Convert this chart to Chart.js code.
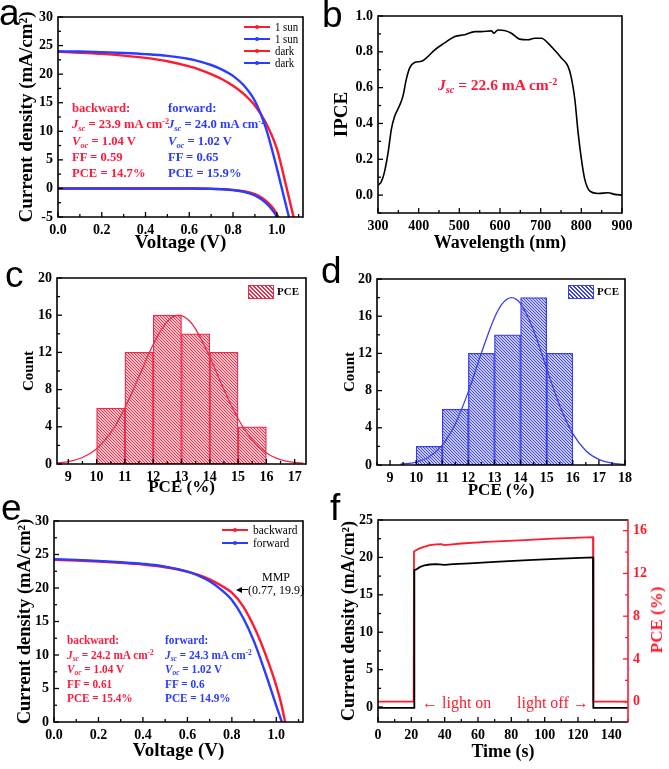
<!DOCTYPE html>
<html><head><meta charset="utf-8">
<script src="https://cdn.jsdelivr.net/npm/chart.js@4.4.1/dist/chart.umd.min.js"></script>
<style>
html,body{margin:0;padding:0;background:#fff;overflow:hidden;}
#wrap{position:relative;width:669px;height:769px;overflow:hidden;background:#fff;}
canvas{position:absolute;left:0;top:0;}
.t{position:absolute;white-space:nowrap;font-family:"Liberation Serif","Times New Roman",serif;transform-origin:0 50%;}
.b{font-weight:bold;}
.lbl{position:absolute;font-family:"Liberation Sans",Arial,sans-serif;font-size:37px;line-height:37px;color:#000;}
.sub{font-size:0.66em;vertical-align:-0.3em;line-height:0;font-style:italic;}
.sup{font-size:0.66em;vertical-align:0.5em;line-height:0;}
.ln{position:absolute;height:2px;}
.dot{position:absolute;width:4px;height:4px;border-radius:2px;}
</style></head><body><div id="wrap">
<canvas id="ca" width="669" height="769"></canvas>
<canvas id="cb" width="669" height="769"></canvas>
<canvas id="cc" width="669" height="769"></canvas>
<canvas id="cd" width="669" height="769"></canvas>
<canvas id="ce" width="669" height="769"></canvas>
<canvas id="cf" width="669" height="769"></canvas>

<!-- panel letters -->
<div class="lbl" style="left:-1px;top:-6px;">a</div>
<div class="lbl" style="left:322px;top:-4px;">b</div>
<div class="lbl" style="left:5px;top:256px;">c</div>
<div class="lbl" style="left:321px;top:252px;">d</div>
<div class="lbl" style="left:1px;top:489px;">e</div>
<div class="lbl" style="left:330px;top:489px;">f</div>

<!-- panel a legend -->
<div class="ln" style="left:244px;top:26px;width:26px;background:#ff1a2e"></div><div class="dot" style="left:255px;top:25px;background:#ff1a2e"></div>
<div class="t" style="left:275px;top:19px;font-size:12px;line-height:16px;transform:scaleX(0.9);">1 sun</div>
<div class="ln" style="left:244px;top:38px;width:26px;background:#2a3cff"></div><div class="dot" style="left:255px;top:37px;background:#2a3cff"></div>
<div class="t" style="left:275px;top:31px;font-size:12px;line-height:16px;transform:scaleX(0.9);">1 sun</div>
<div class="ln" style="left:244px;top:50px;width:26px;background:#ff1a2e"></div><div class="dot" style="left:255px;top:49px;background:#ff1a2e"></div>
<div class="t" style="left:275px;top:43px;font-size:12px;line-height:16px;transform:scaleX(0.9);">dark</div>
<div class="ln" style="left:244px;top:62px;width:26px;background:#2a3cff"></div><div class="dot" style="left:255px;top:61px;background:#2a3cff"></div>
<div class="t" style="left:275px;top:55px;font-size:12px;line-height:16px;transform:scaleX(0.9);">dark</div>

<!-- panel a annotations -->
<div class="t b" style="left:72px;top:100px;font-size:13.3px;line-height:16.25px;color:#ff1a3a;transform:scaleX(0.95);">backward:<br><i>J</i><span class="sub">sc</span> = 23.9 mA cm<span class="sup">-2</span><br><i>V</i><span class="sub">oc</span> = 1.04 V<br>FF = 0.59<br>PCE = 14.7%</div>
<div class="t b" style="left:168px;top:100px;font-size:13.3px;line-height:16.25px;color:#2a3cff;transform:scaleX(0.95);">forward:<br><i>J</i><span class="sub">sc</span> = 24.0 mA cm<span class="sup">-2</span><br><i>V</i><span class="sub">oc</span> = 1.02 V<br>FF = 0.65<br>PCE = 15.9%</div>

<!-- panel b annotation -->
<div class="t b" style="left:438px;top:75px;font-size:15.5px;line-height:20px;color:#ff1a3a;"><i>J</i><span class="sub">sc</span> = 22.6 mA cm<span class="sup">-2</span></div>

<!-- panel c legend -->
<div style="position:absolute;left:248px;top:285px;width:24px;height:12px;border:1px solid #ee2b47;background:repeating-linear-gradient(45deg,#ee2b47 0 1.2px,#fff 1.2px 2.8px);"></div>
<div class="t b" style="left:277px;top:283px;font-size:11px;line-height:16px;">PCE</div>
<!-- panel d legend -->
<div style="position:absolute;left:568px;top:285px;width:24px;height:12px;border:1px solid #3a40e8;background:repeating-linear-gradient(45deg,#3a40e8 0 1.2px,#fff 1.2px 2.8px);"></div>
<div class="t b" style="left:597px;top:283px;font-size:11px;line-height:16px;">PCE</div>

<!-- panel e legend -->
<div class="ln" style="left:222px;top:529px;width:26px;background:#ff1a2e"></div><div class="dot" style="left:233px;top:528px;background:#ff1a2e"></div>
<div class="t" style="left:253px;top:521px;font-size:13px;line-height:18px;transform:scaleX(0.88);">backward</div>
<div class="ln" style="left:222px;top:542px;width:26px;background:#2a3cff"></div><div class="dot" style="left:233px;top:541px;background:#2a3cff"></div>
<div class="t" style="left:253px;top:534px;font-size:13px;line-height:18px;transform:scaleX(0.88);">forward</div>

<!-- panel e annotations -->
<div class="t b" style="left:67px;top:633px;font-size:12.4px;line-height:14.5px;color:#ff1a3a;transform:scaleX(0.91);">backward:<br><i>J</i><span class="sub">sc</span> = 24.2 mA cm<span class="sup">-2</span><br><i>V</i><span class="sub">oc</span> = 1.04 V<br>FF = 0.61<br>PCE = 15.4%</div>
<div class="t b" style="left:165px;top:633px;font-size:12.4px;line-height:14.5px;color:#2a3cff;transform:scaleX(0.91);">forward:<br><i>J</i><span class="sub">sc</span> = 24.3 mA cm<span class="sup">-2</span><br><i>V</i><span class="sub">oc</span> = 1.02 V<br>FF = 0.6<br>PCE = 14.9%</div>
<div class="t" style="left:262px;top:569px;font-size:12px;line-height:16px;">MMP</div>
<div class="t" style="left:248px;top:582px;font-size:12px;line-height:16px;">(0.77, 19.9)</div>
<div style="position:absolute;left:241px;top:589px;width:7px;height:1.3px;background:#000;"></div>
<div style="position:absolute;left:236px;top:587px;width:0;height:0;border-top:3px solid transparent;border-bottom:3px solid transparent;border-right:6px solid #000;"></div>

<!-- panel f annotations -->
<div class="t" style="left:422px;top:694px;font-size:16px;line-height:18px;color:#ff1a2e;">← light on</div>
<div class="t" style="left:517px;top:694px;font-size:16px;line-height:18px;color:#ff1a2e;">light off →</div>
<div class="t b" style="left:657px;top:620px;font-size:17px;line-height:20px;color:#ff1a2e;transform-origin:50% 50%;transform:translate(-50%,-50%) rotate(-90deg);">PCE (%)</div>
</div>
<script>
// ---------------- DATA ----------------
// Panel a: J-V (1 sun and dark), backward (red) and forward (blue)
const A_X_TICKS = [0, 0.2, 0.4, 0.6, 0.8, 1.0];
const A_Y_TICKS = [-5, 0, 5, 10, 15, 20, 25, 30];
const A_V_SUN_BWD = [0, 0.1, 0.2, 0.3, 0.4, 0.5, 0.6, 0.65, 0.7, 0.75, 0.8, 0.85, 0.9, 0.95, 1.0, 1.02, 1.04, 1.06, 1.078];
const A_J_SUN_BWD = [23.9, 23.75, 23.55, 23.25, 22.85, 22.25, 21.35, 20.75, 20.0, 19.1, 17.95, 16.5, 14.5, 11.5, 7.0, 4.1, 0.9, -2.3, -5.2];
const A_V_SUN_FWD = [0, 0.1, 0.2, 0.3, 0.4, 0.5, 0.6, 0.65, 0.7, 0.75, 0.8, 0.85, 0.9, 0.95, 1.0, 1.02, 1.04, 1.057];
const A_J_SUN_FWD = [24.0, 23.95, 23.85, 23.7, 23.5, 23.2, 22.65, 22.2, 21.6, 20.8, 19.7, 18.0, 15.3, 10.6, 3.6, 0.5, -2.6, -5.2];
const A_V_DARK_BWD = [0, 0.2, 0.4, 0.6, 0.7, 0.75, 0.8, 0.85, 0.9, 0.93, 0.96, 0.99, 1.01];
const A_J_DARK_BWD = [0, 0, 0, -0.02, -0.06, -0.12, -0.25, -0.5, -1.0, -1.6, -2.5, -3.8, -5.2];
const A_V_DARK_FWD = [0, 0.2, 0.4, 0.6, 0.7, 0.75, 0.8, 0.85, 0.9, 0.93, 0.96, 0.99, 1.005];
const A_J_DARK_FWD = [0, 0, 0, -0.02, -0.07, -0.14, -0.3, -0.6, -1.2, -1.9, -2.9, -4.3, -5.2];

// Panel b: IPCE spectrum
const B_X_TICKS = [300, 400, 500, 600, 700, 800, 900];
const B_Y_TICKS = [0.0, 0.2, 0.4, 0.6, 0.8, 1.0];
const B_WAVELENGTH = [300, 308, 316, 325, 333, 341, 353, 361, 370, 378, 390, 407, 419, 439, 464, 489, 513, 538, 554, 579, 585, 595, 611, 628, 648, 669, 685, 702, 718, 734, 751, 767, 775, 784, 792, 800, 808, 821, 841, 866, 882, 900];
const B_IPCE = [0.055, 0.074, 0.13, 0.24, 0.37, 0.44, 0.50, 0.55, 0.65, 0.71, 0.74, 0.747, 0.766, 0.81, 0.85, 0.886, 0.895, 0.913, 0.913, 0.917, 0.904, 0.922, 0.919, 0.904, 0.871, 0.867, 0.876, 0.876, 0.849, 0.81, 0.766, 0.72, 0.66, 0.535, 0.35, 0.203, 0.092, 0.022, 0.009, 0.013, 0.004, 0.0];

// Panel c: PCE histogram (backward)
const C_X_TICKS = [9, 10, 11, 12, 13, 14, 15, 16, 17];
const C_Y_TICKS = [0, 4, 8, 12, 16, 20];
const C_BIN_CENTER = [10.5, 11.5, 12.5, 13.5, 14.5, 15.5];
const C_COUNT = [6, 12, 16, 14, 12, 4];
const C_FIT_X = [8.6, 9, 9.5, 10, 10.5, 11, 11.5, 12, 12.5, 12.9, 13.3, 13.5, 14, 14.5, 15, 15.5, 16, 16.5, 17, 17.3];
const C_FIT_Y = [0.11, 0.26, 0.70, 1.65, 3.37, 6.03, 9.42, 12.85, 15.33, 16.0, 15.33, 14.5, 11.5, 8.0, 4.86, 2.57, 1.19, 0.48, 0.17, 0.09];

// Panel d: PCE histogram (forward)
const D_X_TICKS = [9, 10, 11, 12, 13, 14, 15, 16, 17, 18];
const D_Y_TICKS = [0, 4, 8, 12, 16, 20];
const D_BIN_CENTER = [10.5, 11.5, 12.5, 13.5, 14.5, 15.5];
const D_COUNT = [2, 6, 12, 14, 18, 12];
const D_FIT_X = [9.4, 10, 10.5, 11, 11.5, 12, 12.5, 13, 13.3, 13.65, 14, 14.5, 15, 15.5, 16, 16.5, 17, 17.5, 18];
const D_FIT_Y = [0.08, 0.32, 0.89, 2.14, 4.44, 7.89, 12.06, 15.84, 17.35, 18.0, 17.35, 14.46, 10.36, 6.38, 3.38, 1.54, 0.60, 0.20, 0.06];

// Panel e: J-V backward / forward
const E_X_TICKS = [0, 0.2, 0.4, 0.6, 0.8, 1.0];
const E_Y_TICKS = [0, 5, 10, 15, 20, 25, 30];
const E_V_BWD = [0, 0.1, 0.2, 0.3, 0.4, 0.5, 0.6, 0.65, 0.7, 0.75, 0.8, 0.85, 0.9, 0.95, 1.0, 1.02, 1.04];
const E_J_BWD = [24.2, 24.1, 23.95, 23.75, 23.5, 23.1, 22.45, 21.95, 21.3, 20.4, 19.3, 17.3, 14.2, 10.2, 5.4, 3.0, 0];
const E_V_FWD = [0, 0.1, 0.2, 0.3, 0.4, 0.5, 0.6, 0.65, 0.7, 0.75, 0.8, 0.85, 0.9, 0.95, 1.0, 1.025];
const E_J_FWD = [24.3, 24.2, 24.05, 23.85, 23.6, 23.2, 22.45, 21.85, 21.0, 19.8, 18.2, 15.6, 12.0, 7.4, 2.4, 0];

// Panel f: steady-state output
const F_X_TICKS = [0, 20, 40, 60, 80, 100, 120, 140];
const F_Y_TICKS = [0, 5, 10, 15, 20, 25];
const F_Y2_TICKS = [0, 4, 8, 12, 16];
const F_T_J = [0, 21.6, 21.8, 23, 25, 28, 31, 35, 40, 45, 55, 70, 90, 110, 129, 129.2, 150];
const F_J = [-0.1, -0.1, 18.3, 18.4, 18.7, 18.95, 19.05, 19.1, 19.0, 19.1, 19.2, 19.4, 19.65, 19.85, 20.0, -0.1, -0.1];
const F_T_PCE = [0, 21.4, 21.6, 23, 25, 28, 31, 35, 38, 40, 43, 50, 65, 85, 105, 129, 129.2, 150];
const F_PCE = [0, 0, 14.05, 14.2, 14.35, 14.5, 14.65, 14.72, 14.75, 14.65, 14.7, 14.8, 14.95, 15.1, 15.25, 15.4, 0, 0];

// ---------------- STYLE ----------------
const RED = '#ff1a2e', BLUE = '#2a3cff', HRED = '#ee2b47', HBLUE = '#3a40e8';
const W = 669, H = 769;
const SERIF = "'Liberation Serif', 'Times New Roman', serif";
const TICK_FONT = {family: SERIF, size: 14, weight: 'bold', lineHeight: 1.2};
const titleFont = size => ({family: SERIF, size: size, weight: 'bold', lineHeight: 1.2});

const pts = (xs, ys) => xs.map((x, i) => ({x: x, y: ys[i]}));

function xAxis(o) {
  return {type: 'linear', position: 'bottom', min: o.min, max: o.max, bounds: 'data', offset: false,
    grid: {display: false, drawTicks: false}, border: {display: false},
    afterBuildTicks: s => { s.ticks = o.ticks.map(v => ({value: v})); },
    afterFit: s => { s.height = o.height; },
    ticks: {font: TICK_FONT, color: '#000', padding: 5, autoSkip: false, maxRotation: 0, minRotation: 0, callback: v => o.fmt(v)},
    title: {display: true, text: o.title, font: titleFont(o.ts || 19), color: '#000', padding: 0}};
}
function yAxis(o) {
  return {type: 'linear', position: o.position || 'left', min: o.min, max: o.max, bounds: 'data',
    grid: {display: false, drawTicks: false}, border: {display: false},
    afterBuildTicks: s => { s.ticks = o.ticks.map(v => ({value: v})); },
    afterFit: s => { s.width = o.width; },
    ticks: {font: TICK_FONT, color: o.color || '#000', padding: 5, autoSkip: false, callback: v => o.fmt(v)},
    title: {display: !!o.title, text: o.title || '', font: titleFont(o.ts || 19), color: o.color || '#000', padding: 0}};
}

const framePlugin = {
  id: 'frame',
  afterDatasetsDraw(chart, args, opts) {
    const {ctx, chartArea: a} = chart;
    ctx.save();
    const marks = (scale, side, color) => {
      const vals = scale.ticks.map(t => t.value);
      const minor = [];
      for (let i = 0; i < vals.length - 1; i++) minor.push((vals[i] + vals[i + 1]) / 2);
      if (vals.length > 1) {
        const st = vals[1] - vals[0];
        if (vals[0] - st / 2 >= scale.min) minor.push(vals[0] - st / 2);
        if (vals[vals.length - 1] + st / 2 <= scale.max) minor.push(vals[vals.length - 1] + st / 2);
      }
      ctx.strokeStyle = color; ctx.lineWidth = 1.3;
      const m = (v, len) => {
        const p = scale.getPixelForValue(v);
        ctx.beginPath();
        if (side === 'bottom') { ctx.moveTo(p, a.bottom); ctx.lineTo(p, a.bottom - len); }
        else if (side === 'left') { ctx.moveTo(a.left, p); ctx.lineTo(a.left + len, p); }
        else { ctx.moveTo(a.right, p); ctx.lineTo(a.right - len, p); }
        ctx.stroke();
      };
      vals.forEach(v => m(v, 5));
      minor.forEach(v => m(v, 3));
    };
    marks(chart.scales.x, 'bottom', '#000');
    marks(chart.scales.y, 'left', '#000');
    if (chart.scales.y2) marks(chart.scales.y2, 'right', opts.rightColor || '#000');
    ctx.lineWidth = 1.6;
    ctx.strokeStyle = '#000';
    ctx.beginPath();
    ctx.moveTo(a.right, a.top); ctx.lineTo(a.left, a.top); ctx.lineTo(a.left, a.bottom); ctx.lineTo(a.right, a.bottom);
    ctx.stroke();
    ctx.strokeStyle = opts.rightColor || '#000';
    ctx.beginPath(); ctx.moveTo(a.right, a.top - 0.8); ctx.lineTo(a.right, a.bottom + 0.8); ctx.stroke();
    ctx.restore();
  }
};

function baseOptions(pad, scales, rightColor) {
  return {responsive: false, animation: false, events: [],
    layout: {padding: pad, autoPadding: false},
    plugins: {legend: {display: false}, tooltip: {enabled: false}, frame: {rightColor: rightColor || '#000'}},
    scales: scales};
}
function lineDs(data, color, width, tension) {
  return {data: data, borderColor: color, backgroundColor: color, borderWidth: width, pointRadius: 0,
    fill: false, tension: tension, cubicInterpolationMode: tension ? 'monotone' : 'default'};
}
function hatch(color) {
  const n = 3;
  const c = document.createElement('canvas');
  c.width = n; c.height = n;
  const g = c.getContext('2d');
  g.fillStyle = '#fff'; g.fillRect(0, 0, n, n);
  g.strokeStyle = color; g.lineWidth = 1.1;
  g.beginPath();
  g.moveTo(-1, -1); g.lineTo(n + 1, n + 1);
  g.moveTo(-1, n - 1); g.lineTo(1, n + 1);
  g.moveTo(n - 1, -1); g.lineTo(n + 1, 1);
  g.stroke();
  return g.createPattern(c, 'repeat');
}

Chart.register(framePlugin);
const plain = v => String(v);
const f1 = v => v.toFixed(1);

// ---- a ----
new Chart(document.getElementById('ca'), {
  type: 'line',
  data: {datasets: [
    lineDs(pts(A_V_SUN_FWD, A_J_SUN_FWD), BLUE, 2.4, 0.4),
    lineDs(pts(A_V_SUN_BWD, A_J_SUN_BWD), RED, 2.4, 0.4),
    lineDs(pts(A_V_DARK_FWD, A_J_DARK_FWD), BLUE, 2.4, 0.4),
    lineDs(pts(A_V_DARK_BWD, A_J_DARK_BWD), RED, 2.4, 0.4)
  ]},
  options: baseOptions({left: 16, top: 17, right: W - 303, bottom: H - 254}, {
    x: xAxis({min: 0, max: 1.12, ticks: A_X_TICKS, title: 'Voltage (V)', fmt: f1, height: 37, ts: 19}),
    y: yAxis({min: -5, max: 30, ticks: A_Y_TICKS, title: 'Current density (mA/cm²)', fmt: plain, width: 42, ts: 19})
  })
});

// ---- b ----
new Chart(document.getElementById('cb'), {
  type: 'line',
  data: {datasets: [lineDs(pts(B_WAVELENGTH, B_IPCE), '#000', 1.6, 0.3)]},
  options: baseOptions({left: 331, top: 16, right: W - 622, bottom: H - 254}, {
    x: xAxis({min: 300, max: 900, ticks: B_X_TICKS, title: 'Wavelength (nm)', fmt: plain, height: 41, ts: 18}),
    y: yAxis({min: -0.1, max: 1.0, ticks: B_Y_TICKS, title: 'IPCE', fmt: f1, width: 47, ts: 19})
  })
});

// ---- c, d ----
function histChart(id, centers, counts, fx, fy, color, pad, xo, yo) {
  return new Chart(document.getElementById(id), {
    type: 'bar',
    data: {datasets: [
      Object.assign(lineDs(pts(fx, fy), color, 1.3, 0.4), {type: 'line', order: 0}),
      {type: 'bar', data: pts(centers, counts), backgroundColor: hatch(color), borderColor: color, borderWidth: 1.3,
        borderSkipped: false, barPercentage: 1, categoryPercentage: 1, order: 1}
    ]},
    options: baseOptions(pad, {x: xAxis(xo), y: yAxis(yo)})
  });
}
histChart('cc', C_BIN_CENTER, C_COUNT, C_FIT_X, C_FIT_Y, HRED,
  {left: 20, top: 278, right: W - 306, bottom: H - 498},
  {min: 8.6, max: 17.4, ticks: C_X_TICKS, title: 'PCE (%)', fmt: plain, height: 34, ts: 17},
  {min: 0, max: 20, ticks: C_Y_TICKS, title: 'Count', fmt: plain, width: 37, ts: 15});
histChart('cd', D_BIN_CENTER, D_COUNT, D_FIT_X, D_FIT_Y, HBLUE,
  {left: 341, top: 279, right: W - 625, bottom: H - 501},
  {min: 8.5, max: 18, ticks: D_X_TICKS, title: 'PCE (%)', fmt: plain, height: 36, ts: 17},
  {min: 0, max: 20, ticks: D_Y_TICKS, title: 'Count', fmt: plain, width: 36, ts: 15});

// ---- e ----
new Chart(document.getElementById('ce'), {
  type: 'line',
  data: {datasets: [
    lineDs(pts(E_V_FWD, E_J_FWD), BLUE, 2.4, 0.4),
    lineDs(pts(E_V_BWD, E_J_BWD), RED, 2.4, 0.4)
  ]},
  options: baseOptions({left: 14, top: 521, right: W - 303, bottom: H - 762}, {
    x: xAxis({min: 0, max: 1.12, ticks: E_X_TICKS, title: 'Voltage (V)', fmt: f1, height: 40, ts: 19}),
    y: yAxis({min: 0, max: 30, ticks: E_Y_TICKS, title: 'Current density (mA/cm²)', fmt: plain, width: 40, ts: 18.5})
  })
});

// ---- f ----
const fJds = lineDs(pts(F_T_J, F_J), '#000', 1.8, 0);
fJds.yAxisID = 'y';
const fPds = lineDs(pts(F_T_PCE, F_PCE), RED, 1.8, 0);
fPds.yAxisID = 'y2';
new Chart(document.getElementById('cf'), {
  type: 'line',
  data: {datasets: [fJds, fPds]},
  options: baseOptions({left: 339, top: 520, right: W - 668, bottom: H - 763}, {
    x: xAxis({min: 0, max: 150, ticks: F_X_TICKS, title: 'Time (s)', fmt: plain, height: 41, ts: 18}),
    y: yAxis({min: -2, max: 25, ticks: F_Y_TICKS, title: 'Current density (mA/cm²)', fmt: plain, width: 39, ts: 18}),
    y2: yAxis({min: -1.9, max: 17, ticks: F_Y2_TICKS, fmt: plain, width: 40, position: 'right', color: RED})
  }, RED)
});
</script>
</body></html>
